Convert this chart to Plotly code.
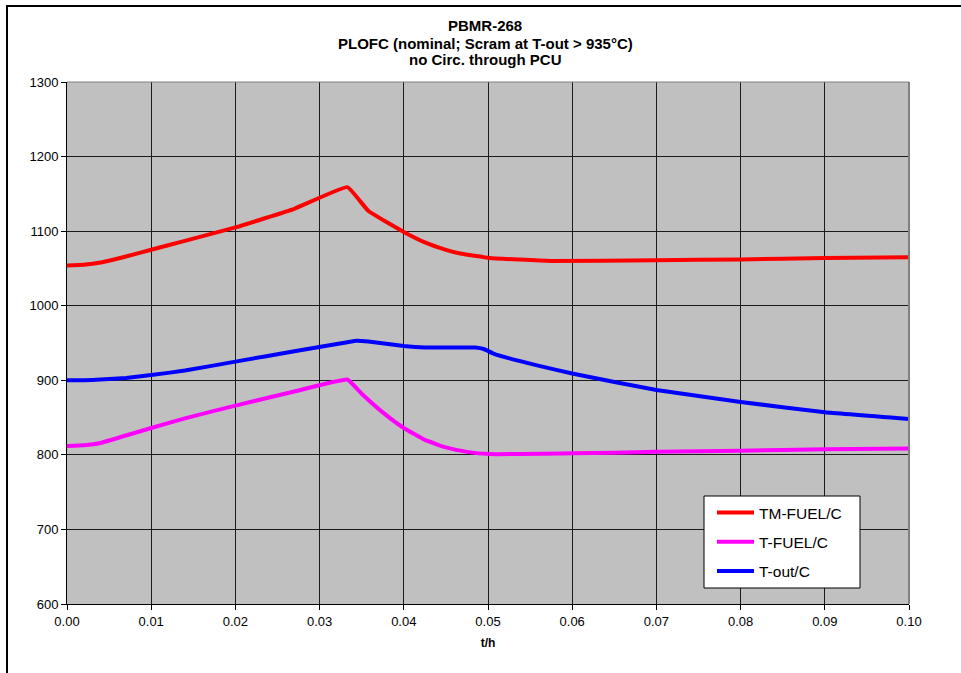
import plotly.graph_objects as go

# ---- data ----
t_tm = [0.0, 0.002, 0.004, 0.007, 0.010, 0.014, 0.020, 0.027, 0.0333,
        0.0358, 0.040, 0.0425, 0.045, 0.0467, 0.0502, 0.0574, 0.070, 0.080, 0.090, 0.100]
tm_fuel = [1054, 1055, 1058, 1066, 1075, 1087, 1105, 1130, 1159,
           1127, 1099, 1085, 1075, 1070, 1064, 1060, 1061, 1062, 1064, 1065]

t_tf = [0.0, 0.002, 0.004, 0.007, 0.010, 0.014, 0.020, 0.027, 0.0333,
        0.035, 0.0375, 0.040, 0.0425, 0.045, 0.0475, 0.0503, 0.060, 0.070, 0.080, 0.090, 0.100]
t_fuel = [812, 813, 816, 826, 836, 849, 866, 885, 901,
          882, 857, 836, 820, 810, 804, 801, 802, 804, 805.6, 807.5, 808.5]

t_to = [0.0, 0.002, 0.004, 0.007, 0.010, 0.014, 0.020, 0.027, 0.0333,
        0.0344, 0.0358, 0.040, 0.0425, 0.0485, 0.0495, 0.0508, 0.0562, 0.060,
        0.070, 0.080, 0.090, 0.100]
t_out = [900, 900, 901, 903, 907, 913, 925, 939, 951,
         953, 952, 946, 944, 944, 942, 935, 919, 909,
         887, 871, 857, 848]

names = ["TM-FUEL/C", "T-FUEL/C", "T-out/C"]
colors = ["#FF0000", "#FF00FF", "#0000FF"]

title_lines = ["PBMR-268", "PLOFC (nominal; Scram at T-out > 935°C)", "no Circ. through PCU"]

x_ticks = [0.00, 0.01, 0.02, 0.03, 0.04, 0.05, 0.06, 0.07, 0.08, 0.09, 0.10]
y_ticks = [600, 700, 800, 900, 1000, 1100, 1200, 1300]

fig = go.Figure()
for i, (xs, ys) in enumerate([(t_tm, tm_fuel), (t_tf, t_fuel), (t_to, t_out)]):
    fig.add_trace(go.Scatter(x=xs, y=ys, mode="lines", name=names[i],
                             legendgroup=names[i],
                             line=dict(color=colors[i], width=4, shape="spline", smoothing=0.3)))

W, H = 961, 673
L, R, T, B = 67, 52, 82, 69
pw, ph = W - L - R, H - T - B


def px(x):
    return (x - L) / pw


def py(y):
    return (H - B - y) / ph


title_y = [26, 43, 59.5]
annotations = [
    dict(text="<b>%s</b>" % s, xref="paper", yref="paper", x=px(485), y=py(yy),
         xanchor="center", yanchor="middle", showarrow=False,
         font=dict(size=15, family="Liberation Sans, Arial, sans-serif", color="#000000"))
    for s, yy in zip(title_lines, title_y)
]

fig.update_layout(
    width=W, height=H,
    margin=dict(l=L, r=R, t=T, b=B),
    paper_bgcolor="white",
    plot_bgcolor="#C0C0C0",
    font=dict(family="Liberation Sans, Arial, sans-serif", size=13, color="#000000"),
    annotations=annotations,
    xaxis=dict(
        range=[0, 0.10], tickvals=x_ticks, tickformat=".2f",
        showgrid=True, gridcolor="#1a1a1a", gridwidth=1,
        showline=True, linecolor="#000000", linewidth=1,
        ticks="outside", ticklen=5, tickcolor="#000000",
        zeroline=False,
        title=dict(text="<b>t/h</b>", font=dict(size=12), standoff=11),
        tickfont=dict(size=13),
    ),
    yaxis=dict(
        range=[600, 1300], tickvals=y_ticks,
        showgrid=True, gridcolor="#1a1a1a", gridwidth=1,
        showline=True, linecolor="#000000", linewidth=1,
        ticks="outside", ticklen=5, tickcolor="#000000",
        zeroline=False,
        tickfont=dict(size=13),
    ),
    legend=dict(
        x=px(712), y=py(496), xanchor="left", yanchor="top",
        bgcolor="rgba(0,0,0,0)", borderwidth=0,
        font=dict(size=15.5), tracegroupgap=6, itemwidth=37,
    ),
    showlegend=True,
    shapes=[
        dict(type="line", xref="paper", yref="paper", x0=0, x1=1, y0=1, y1=1,
             line=dict(color="#808080", width=1)),
        dict(type="line", xref="paper", yref="paper", x0=1, x1=1, y0=0, y1=1,
             line=dict(color="#808080", width=2)),
        dict(type="rect", xref="paper", yref="paper",
             x0=px(7), x1=px(970), y0=py(680), y1=py(6),
             line=dict(color="#000000", width=2)),
        # legend box
        dict(type="rect", xref="paper", yref="paper", layer="above",
             x0=px(704), x1=px(860), y0=py(588), y1=py(496),
             fillcolor="white", line=dict(color="#000000", width=1)),
    ],
)

fig.write_html("out.html")
